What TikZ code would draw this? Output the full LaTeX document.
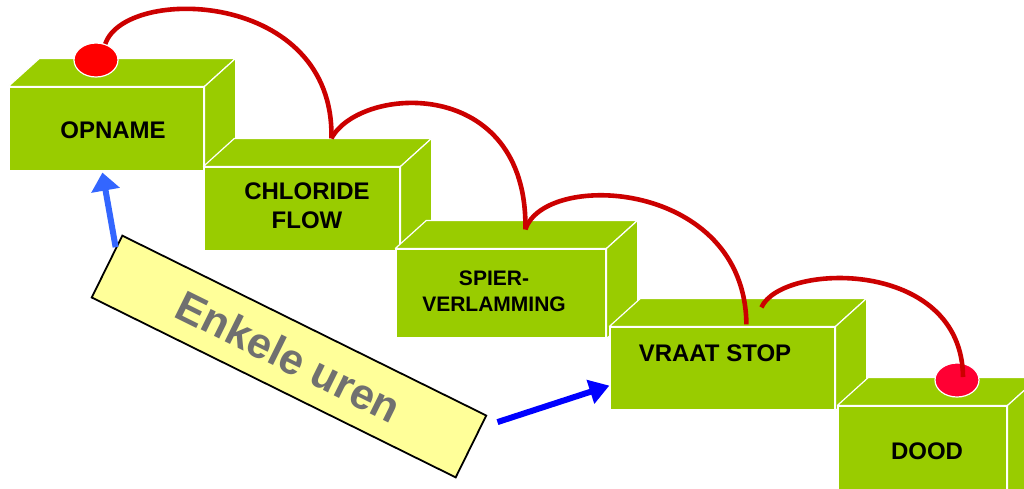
\documentclass[tikz,border=0pt]{standalone}
\usepackage{fontspec}
\setmainfont{Liberation Sans}
\usetikzlibrary{calc,arrows.meta,shapes.geometric}
\definecolor{boxgreen}{HTML}{99CC00}
\definecolor{arcred}{HTML}{CC0000}
\definecolor{dotred}{HTML}{FF0000}
\definecolor{dotredb}{HTML}{FF0033}
\definecolor{banyellow}{HTML}{FFFF99}
\definecolor{bantext}{HTML}{707070}
\definecolor{blueA}{HTML}{3366FF}
\definecolor{blueB}{HTML}{0000FF}
\newcommand\greenbox[4]{%
  \node[front, minimum width=#3pt, minimum height=#4pt] (#1) at (#2) {};
  \filldraw[face] (#1.north west) -- ++(31,-28) -- ($(#1.north east)+(31,-28)$) -- (#1.north east) -- cycle;
  \filldraw[face] (#1.north east) -- ++(31,-28) -- ($(#1.south east)+(31,-28)$) -- (#1.south east) -- cycle;
}
\begin{document}
\begin{tikzpicture}[x=1pt,y=-1pt,
  front/.style={rectangle, fill=boxgreen, draw=white, line width=1.2pt, inner sep=0pt},
  face/.style={fill=boxgreen, draw=white, line width=1.2pt, line join=round},
  lbl/.style={font=\fontsize{24}{29}\selectfont\bfseries, text=black, inner sep=0pt, align=center},
  lblsmall/.style={font=\fontsize{21}{26}\selectfont\bfseries, text=black, inner sep=0pt, align=center},
  dot/.style={ellipse, minimum width=44pt, minimum height=34pt, inner sep=0pt, draw=white, line width=1.2pt},
  redarc/.style={draw=arcred, line width=4.6pt},
  banner/.style={rectangle, fill=banyellow, draw=black, line width=1.8pt, inner sep=0pt,
    font=\fontsize{43}{50}\selectfont\bfseries, text=bantext},
  arrowA/.style={draw=blueA, line width=6pt, -{Triangle[width=28pt,length=18pt]}, fill=blueA},
  arrowB/.style={draw=blueB, line width=6pt, -{Triangle[width=24pt,length=20pt]}, fill=blueB}
]
\useasboundingbox (0,0) rectangle (1024,488);
\clip (0,0) rectangle (1024,488);
\fill[white] (0,0) rectangle (1024,488);

\greenbox{b1}{106.5,129}{195}{84}
\node[lbl] (t1) at (113,130) {OPNAME};
\greenbox{b2}{302,209}{196}{84}
\node[lbl] (t2) at (307,206) {CHLORIDE\\FLOW};
\greenbox{b3}{501,293.5}{210}{89}
\node[lblsmall] (t3) at (494,291) {SPIER-\\VERLAMMING};
\greenbox{b4}{722.5,368.5}{225}{83}
\node[lbl] (t4) at (715,353) {VRAAT STOP};
\greenbox{b5}{922.5,456}{169}{100}
\node[lbl] (t5) at (927,451) {DOOD};

\node[dot, fill=dotred] (e1) at (96,60) {};
\node[dot, fill=dotredb] (e5) at (957,380) {};

\coordinate (j2) at ($(b2.north west)+(128,-28)$);
\coordinate (j3) at ($(b3.north west)+(130,-19)$);
\coordinate (j4a) at ($(b4.north west)+(137,-2)$);
\coordinate (j4b) at ($(b4.north west)+(152,-19)$);

\draw[redarc] (e1.60) .. controls (125,-15) and (335,-10) .. (j2);
\draw[redarc] (j2) .. controls (360,85) and (528,75) .. (j3);
\draw[redarc] (j3) .. controls (545,170) and (745,180) .. (j4a);
\draw[redarc] (j4b) .. controls (782,262) and (962,258) .. ($(e5.center)+(6,-3)$);

\node[banner, rotate=-26.3, minimum width=406pt, minimum height=69pt] (ban) at (289,356.5) {Enkele uren};

\draw[arrowA] ($(ban.north west)!0.2!(ban.south west)$) -- ($(b1.south west)+(94,1)$);
\draw[arrowB] ($(ban.north east)+(10,7)$) -- ($(b4.south west)+(0,-25)$);
\end{tikzpicture}
\end{document}
